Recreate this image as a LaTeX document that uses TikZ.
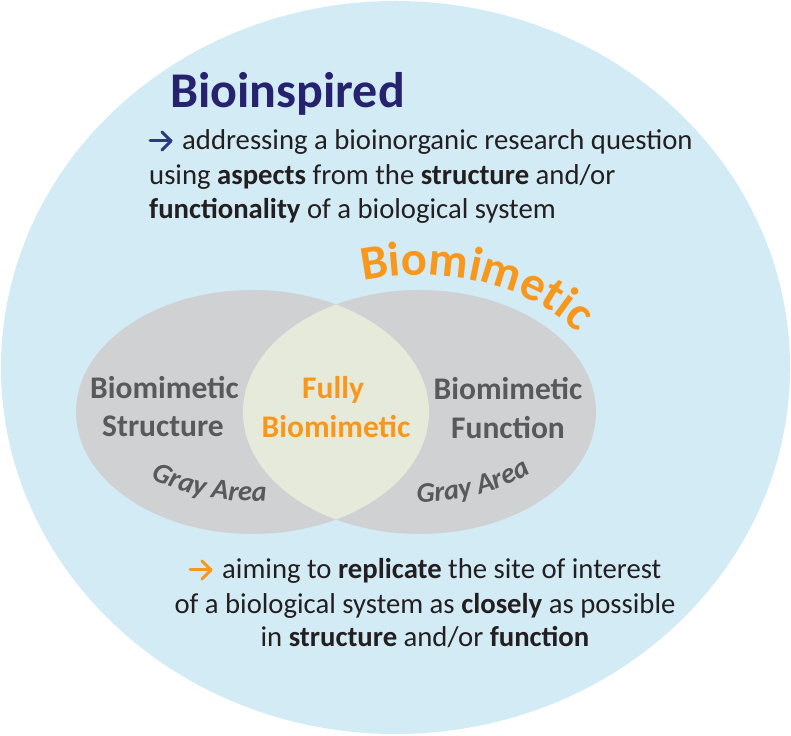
\documentclass[tikz,border=0pt]{standalone}
\usepackage{fontspec}
\setmainfont{Carlito}
\usetikzlibrary{decorations.text,calc}
\definecolor{bgblue}{RGB}{210,235,245}
\definecolor{ellgray}{RGB}{208,209,211}
\definecolor{lensfill}{RGB}{230,234,218}
\definecolor{orng}{RGB}{247,152,29}
\definecolor{navy}{RGB}{38,34,110}
\definecolor{arrowblue}{RGB}{40,58,128}
\definecolor{dgray}{RGB}{88,89,91}
\definecolor{ink}{RGB}{35,31,32}
\begin{document}
\begin{tikzpicture}[x=1pt,y=1pt,
  bodytext/.style={inner sep=0pt, text=ink, font=\fontsize{28.7}{34}\selectfont},
  vlabel/.style={inner sep=0pt, text=dgray, font=\fontsize{31.5}{38}\selectfont\bfseries},
  olabel/.style={inner sep=0pt, text=orng, font=\fontsize{31.5}{38}\selectfont\bfseries},
  glypharrow/.style={line width=3pt, line cap=round, line join=round}]
\useasboundingbox (0,0) rectangle (791,735);
% big background ellipse
\fill[bgblue] (395.5,367.5) ellipse[x radius=394.5pt, y radius=366.5pt];
% venn ellipses
\coordinate (lc) at (252.5,323);
\coordinate (rc) at (419.5,323);
\fill[ellgray] (lc) ellipse[x radius=176.5pt, y radius=122pt];
\fill[ellgray] (rc) ellipse[x radius=176.5pt, y radius=122pt];
\begin{scope}
  \clip (lc) ellipse[x radius=176.5pt, y radius=122pt];
  \fill[lensfill] (rc) ellipse[x radius=176.5pt, y radius=122pt];
\end{scope}
% title
\node[inner sep=0pt, anchor=base west, text=navy, font=\fontsize{50}{56}\selectfont\bfseries] (title) at (170,627) {Bioinspired};
% top paragraph
\node[bodytext, anchor=base west] (t1) at (182,585) {addressing a bioinorganic research question};
\node[bodytext, anchor=base west] (t2) at (149,550) {using \textbf{aspects} from the \textbf{structure} and/or};
\node[bodytext, anchor=base west] (t3) at (149,516) {\textbf{functionality} of a biological system};
\coordinate (a1s) at (150,594);
\coordinate (a1e) at (171,594);
\draw[glypharrow, arrowblue] (a1s) -- (a1e);
\draw[glypharrow, arrowblue] ($(a1e)+(-9,9)$) -- (a1e) -- ($(a1e)+(-9,-9)$);
% venn labels
\node[vlabel, anchor=base] (ls1) at (164.5,336) {Biomimetic};
\node[vlabel, anchor=base] (ls2) at (163,298) {Structure};
\node[olabel, anchor=base] (cf1) at (333,336) {Fully};
\node[olabel, anchor=base] (cf2) at (336,297) {Biomimetic};
\node[vlabel, anchor=base] (rf1) at (508,335) {Biomimetic};
\node[vlabel, anchor=base] (rf2) at (508,296) {Function};
% curved texts
\path[decorate, decoration={text along path, text align=left, text color=orng,
  text={|\fontsize{48.5}{50}\selectfont\bfseries|Biomimetic}}]
  (363.1,454) arc[start angle=107, end angle=10, x radius=193pt, y radius=137pt];
\path[decorate, decoration={text along path, text align=left, text color=dgray,
  text={|\fontsize{28.5}{30}\selectfont\bfseries\itshape|Gray Area}}]
  (151,257) arc[start angle=228, end angle=300, x radius=150pt, y radius=90pt];
\path[decorate, decoration={text along path, text align=left, text color=dgray,
  text={|\fontsize{28.5}{30}\selectfont\bfseries\itshape|Gray Area}}]
  (416.9,233) arc[start angle=269, end angle=340, x radius=150pt, y radius=90pt];
% bottom paragraph
\node[bodytext, anchor=base west] (b1) at (222,156) {aiming to \textbf{replicate} the site of interest};
\node[bodytext, anchor=base] (b2) at (425,121) {of a biological system as \textbf{closely} as possible};
\node[bodytext, anchor=base] (b3) at (425,88) {in \textbf{structure} and/or \textbf{function}};
\coordinate (a2s) at (190,165);
\coordinate (a2e) at (211,165);
\draw[glypharrow, orng] (a2s) -- (a2e);
\draw[glypharrow, orng] ($(a2e)+(-9,9)$) -- (a2e) -- ($(a2e)+(-9,-9)$);
\end{tikzpicture}
\end{document}
